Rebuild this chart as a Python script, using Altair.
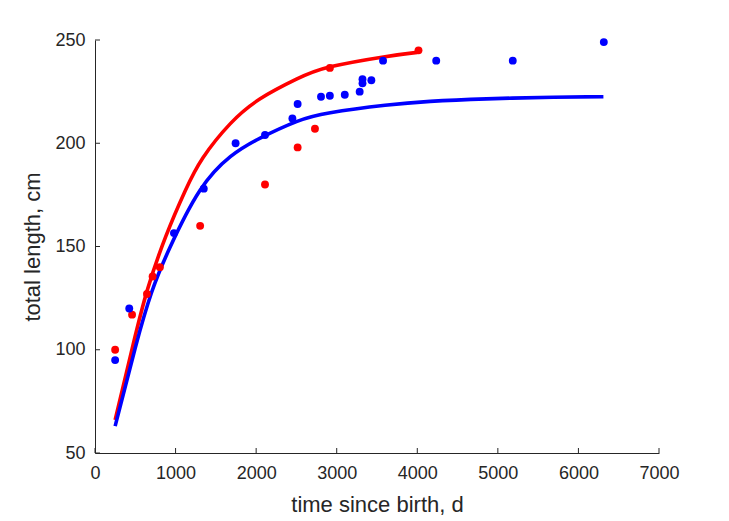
import altair as alt
import pandas as pd

# ---- data ----
red_t = [250, 460, 645, 715, 805, 1305, 2110, 2515, 2730, 2915, 4015]
red_L = [100, 117, 127, 135.5, 140, 160, 180, 198, 207, 236.5, 245]

blue_t = [250, 425, 980, 1350, 1745, 2110, 2450, 2515, 2805, 2915, 3100,
          3285, 3320, 3320, 3430, 3575, 4235, 5185, 6315]
blue_L = [95, 120, 156.5, 178, 200, 204, 212, 219, 222.5, 223, 223.5,
          225, 229, 231, 230.5, 240, 240, 240, 249]

red_curve_t = [250, 470, 650, 880, 1120, 1340, 1680, 2050, 2500, 2920, 3580, 4000]
red_curve_L = [66, 102, 129, 155, 177, 193, 209.5, 221.5, 231, 237, 241.8, 244]

blue_curve_t = [250, 500, 700, 930, 1300, 1680, 2050, 2500, 2920, 3600, 4160, 4860, 5690, 6310]
blue_curve_L = [63, 101, 127.5, 149.5, 177, 193.5, 202.5, 210.5, 214.8, 218.4, 220.3, 221.5, 222.3, 222.6]

x_ticks = [0, 1000, 2000, 3000, 4000, 5000, 6000, 7000]
y_ticks = [50, 100, 150, 200, 250]

RED = "#ff0000"
BLUE = "#0000ff"
INK = "#262626"
FONT = "Liberation Sans"

W, H = 564, 413

pts = pd.concat([
    pd.DataFrame({"t": red_t, "L": red_L, "s": "red"}),
    pd.DataFrame({"t": blue_t, "L": blue_L, "s": "blue"}),
])
red_curve = pd.DataFrame({"t": red_curve_t, "L": red_curve_L})
blue_curve = pd.DataFrame({"t": blue_curve_t, "L": blue_curve_L})

xs = alt.Scale(domain=[0, 7000], nice=False, zero=False)
ys = alt.Scale(domain=[50, 250], nice=False, zero=False)

xaxis = alt.Axis(values=x_ticks, title="time since birth, d", ticks=False, grid=False,
                 labelFontSize=18, titleFontSize=22, labelFont=FONT, titleFont=FONT,
                 labelColor=INK, titleColor=INK, domainColor=INK, domainWidth=1,
                 labelPadding=11, titlePadding=12, titleFontWeight="normal",
                 labelFlush=False, format="d")
yaxis = alt.Axis(values=y_ticks, title="total length, cm", ticks=False, grid=False,
                 labelFontSize=18, titleFontSize=22, labelFont=FONT, titleFont=FONT,
                 labelColor=INK, titleColor=INK, domainColor=INK, domainWidth=1,
                 labelPadding=10, titlePadding=10, titleFontWeight="normal",
                 labelFlush=False, format="d")


def X(field="t"):
    return alt.X(f"{field}:Q", scale=xs, axis=xaxis)


def Y(field="L"):
    return alt.Y(f"{field}:Q", scale=ys, axis=yaxis)


xtick_rules = alt.Chart(pd.DataFrame({"t": x_ticks})).mark_rule(color=INK, strokeWidth=1).encode(
    x=X(), y=alt.value(H), y2=alt.value(H - 5),
)
ytick_rules = alt.Chart(pd.DataFrame({"L": y_ticks})).mark_rule(color=INK, strokeWidth=1).encode(
    y=Y(), x=alt.value(0), x2=alt.value(5),
)

red_line = alt.Chart(red_curve).mark_line(color=RED, strokeWidth=3.6, interpolate="natural").encode(
    x=X(), y=Y())
blue_line = alt.Chart(blue_curve).mark_line(color=BLUE, strokeWidth=3.6, interpolate="natural").encode(
    x=X(), y=Y())

points = alt.Chart(pts).mark_circle(size=62, opacity=1).encode(
    x=X(), y=Y(),
    color=alt.Color("s:N", scale=alt.Scale(domain=["red", "blue"], range=[RED, BLUE]), legend=None),
)

chart = alt.layer(xtick_rules, ytick_rules, red_line, blue_line, points).properties(
    width=W, height=H,
    autosize=alt.AutoSizeParams(type="none"),
    padding={"left": 95, "top": 40, "right": 70, "bottom": 68},
).configure(
    background="white",
    view=alt.ViewConfig(stroke="transparent", strokeWidth=0),
)

chart.save("out.html", embed_options={"renderer": "svg", "actions": False})
